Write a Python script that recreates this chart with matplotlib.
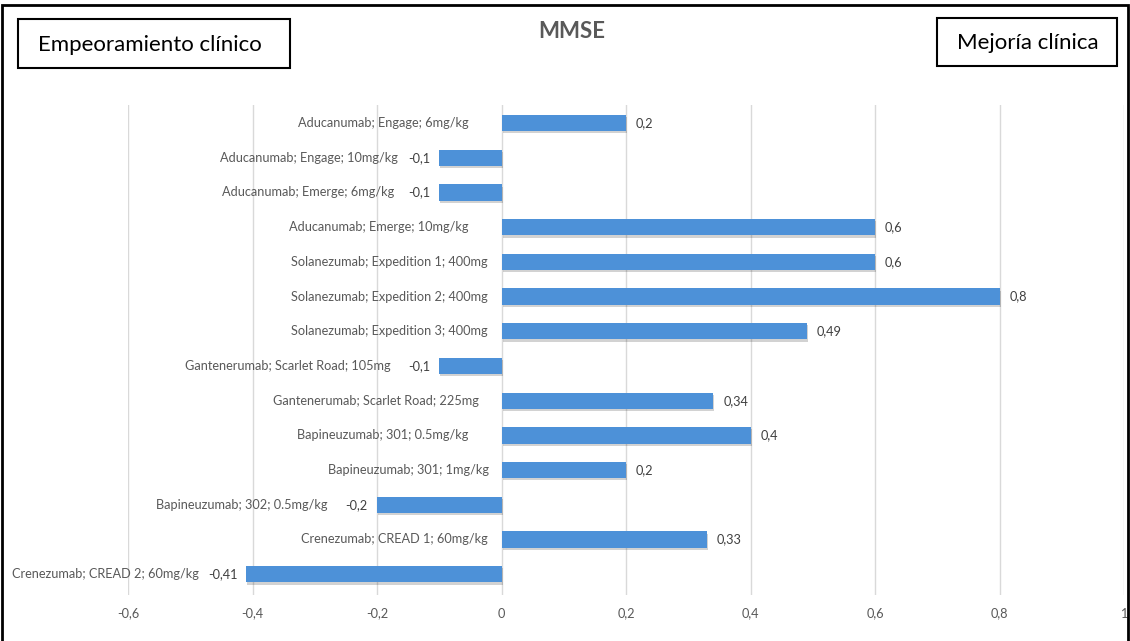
import matplotlib
matplotlib.use('Agg')
import matplotlib.pyplot as plt
import matplotlib.patheffects as pe
from matplotlib.patches import Rectangle
import numpy as np

plt.rcParams['font.family'] = ['Lato', 'DejaVu Sans']

# data (top to bottom as in the chart)
ensayos = [
    'Aducanumab; Engage; 6mg/kg',
    'Aducanumab; Engage; 10mg/kg',
    'Aducanumab; Emerge; 6mg/kg',
    'Aducanumab; Emerge; 10mg/kg',
    'Solanezumab; Expedition 1; 400mg',
    'Solanezumab; Expedition 2; 400mg',
    'Solanezumab; Expedition 3; 400mg',
    'Gantenerumab; Scarlet Road; 105mg',
    'Gantenerumab; Scarlet Road; 225mg',
    'Bapineuzumab; 301; 0.5mg/kg',
    'Bapineuzumab; 301; 1mg/kg',
    'Bapineuzumab; 302; 0.5mg/kg',
    'Crenezumab; CREAD 1; 60mg/kg',
    'Crenezumab; CREAD 2; 60mg/kg',
]
mmse = [0.2, -0.1, -0.1, 0.6, 0.6, 0.8, 0.49, -0.1, 0.34, 0.4, 0.2, -0.2, 0.33, -0.41]
xticks = [-0.6, -0.4, -0.2, 0, 0.2, 0.4, 0.6, 0.8, 1.0]

# gap (px) between label right edge and the bar base, tuned by eye
label_gap = [33, 41, 45, 33, 14, 14, 14, 49, 23, 33, 13, 50, 14, 47]

DPI = 100
fig = plt.figure(figsize=(11.3, 6.41), dpi=DPI)
ax = fig.add_axes([128 / 1130, 1 - 595 / 641, (1124 - 128) / 1130, 490 / 641])

px = 72.0 / DPI  # points per pixel
y = np.arange(len(mmse))
bars = ax.barh(y, mmse, height=0.47, color='#4d91d8', zorder=3)
for b in bars:
    b.set_path_effects([pe.SimplePatchShadow(offset=(0.8, -1.6), alpha=0.22, shadow_rgbFace='#333333'),
                        pe.Normal()])

def fmt(v):
    return ('%g' % v).replace('.', ',')

fs = 9.2
for i, v in enumerate(mmse):
    if v >= 0:
        ax.annotate(fmt(v), (v, i), xytext=(10 * px, 0), textcoords='offset points',
                    ha='left', va='center', fontsize=fs, color='#404040')
        ax.annotate(ensayos[i], (0, i), xytext=(-label_gap[i] * px, 0), textcoords='offset points',
                    ha='right', va='center', fontsize=fs, color='#595959')
    else:
        ax.annotate(fmt(v), (v, i), xytext=(-9 * px, 0), textcoords='offset points',
                    ha='right', va='center', fontsize=fs, color='#404040')
        ax.annotate(ensayos[i], (v, i), xytext=(-label_gap[i] * px, 0), textcoords='offset points',
                    ha='right', va='center', fontsize=fs, color='#595959')

ax.set_xlim(-0.6, 1.0)
ax.set_ylim(13.6, -0.52)
ax.set_xticks(xticks)
ax.set_xticklabels([fmt(t) for t in xticks], color='#595959', fontsize=fs)
ax.set_yticks([])
ax.tick_params(axis='x', length=0, pad=9)
ax.grid(axis='x', color='#d9d9d9', linewidth=1, zorder=0)
for s in ax.spines.values():
    s.set_visible(False)

fig.text(572 / 1130, 1 - 31 / 641, 'MMSE', ha='center', va='center',
         fontsize=16, fontweight='bold', color='#595959')

# annotation boxes
fig.patches.append(Rectangle((18 / 1130, 1 - 68 / 641), 272 / 1130, 49 / 641,
                             transform=fig.transFigure, fill=False, edgecolor='black', linewidth=1.5))
fig.text(150 / 1130, 1 - 45 / 641, 'Empeoramiento clínico', ha='center', va='center',
         fontsize=16, color='black')
fig.patches.append(Rectangle((937 / 1130, 1 - 66 / 641), 180 / 1130, 48 / 641,
                             transform=fig.transFigure, fill=False, edgecolor='black', linewidth=1.5))
fig.text(1028 / 1130, 1 - 43 / 641, 'Mejoría clínica', ha='center', va='center',
         fontsize=16, color='black')

# outer frame
fig.patches.append(Rectangle((2 / 1130, -0.01), 1126 / 1130, 1 - 5 / 641 + 0.01,
                             transform=fig.transFigure, fill=False, edgecolor='black', linewidth=2))

fig.savefig('out.png', dpi=DPI)
